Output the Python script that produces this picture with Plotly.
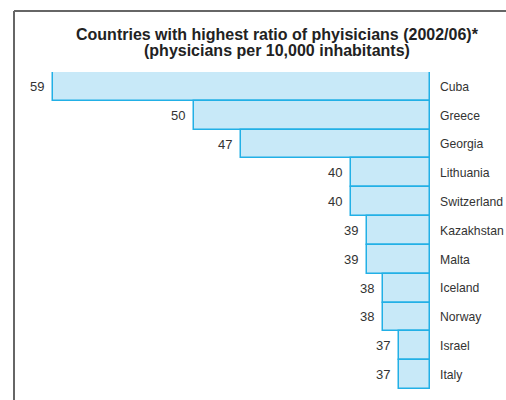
import plotly.graph_objs as go

countries = ['Cuba', 'Greece', 'Georgia', 'Lithuania', 'Switzerland', 'Kazakhstan',
             'Malta', 'Iceland', 'Norway', 'Israel', 'Italy']
physicians = [59, 50, 47, 40, 40, 39, 39, 38, 38, 37, 37]
axis_base = 35
title_lines = ['Countries with highest ratio of phyisicians (2002/06)*',
               '(physicians per 10,000 inhabitants)']

W, H = 506, 400
m_l, m_r, m_t, m_b = 37, 76, 72, 11
FONT = 'Liberation Sans, Arial, sans-serif'

fig = go.Figure()
fig.add_trace(
    go.Bar(
        y=countries,
        x=[v - axis_base for v in physicians],
        base=axis_base,
        orientation='h',
        marker=dict(color='#c8e9f8', line=dict(color='#22b0e6', width=1.5)),
        hoverinfo='skip',
        showlegend=False,
    )
)

# value labels left of each bar
for c, v in zip(countries, physicians):
    fig.add_annotation(x=v, y=c, text=str(v), showarrow=False, xanchor='right',
                       xshift=-7, font=dict(size=13, color='#333333'))

pw = W - m_l - m_r
ph = H - m_t - m_b

# two title lines (tighter spacing than plotly's <br>)
for i, line in enumerate(title_lines):
    fig.add_annotation(text='<b>%s</b>' % line, xref='paper', yref='paper',
                       x=(277 - m_l) / pw, y=1 + (m_t - (34 + 16 * i)) / ph,
                       xanchor='center', yanchor='middle', showarrow=False,
                       font=dict(size=16, color='#222222', family=FONT))

# frame lines (left + top), in paper coords
fx0 = (14 - m_l) / pw
fy_top = 1 + (m_t - 11) / ph
fy_bot = -m_b / ph - 0.01
fig.add_shape(type='line', xref='paper', yref='paper', x0=fx0, x1=fx0, y0=fy_bot, y1=fy_top,
              line=dict(color='#666666', width=2))
fig.add_shape(type='line', xref='paper', yref='paper', x0=fx0, x1=1 + m_r / pw + 0.01, y0=fy_top, y1=fy_top,
              line=dict(color='#666666', width=2))

fig.update_xaxes(range=[60, axis_base], visible=False, fixedrange=True, automargin=False)
fig.update_yaxes(
    autorange='reversed', side='right', showgrid=False, zeroline=False, showline=False,
    ticks='', ticklabelstandoff=9, tickfont=dict(size=12.2, color='#333333'),
    automargin=False, fixedrange=True,
)
fig.update_layout(
    width=W, height=H,
    margin=dict(l=m_l, r=m_r, t=m_t, b=m_b, autoexpand=False),
    bargap=0,
    paper_bgcolor='white', plot_bgcolor='white',
    font=dict(family=FONT),
)

fig.write_html("out.html", config={'displayModeBar': False},
               post_script="document.body.style.margin='0';")
